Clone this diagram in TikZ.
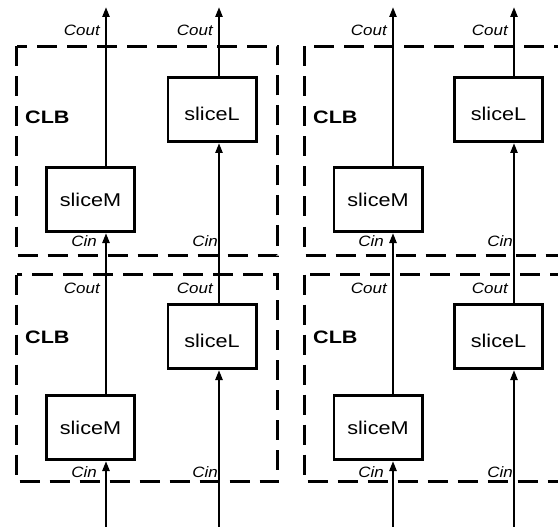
\documentclass[tikz,border=0pt]{standalone}
\usepackage{graphicx}
\usepackage{fontspec}
\setmainfont{Liberation Sans}
\usetikzlibrary{arrows.meta}
\newcommand{\stretchtxt}[2][1.17]{\scalebox{#1}[1]{#2}}
\newcommand{\lowtxt}[1]{\raisebox{-4pt}[\height][\depth]{#1}}
\begin{document}
\begin{tikzpicture}[x=1pt,y=-1pt,
  slice/.style={draw, line width=2.7pt, minimum width=88.3pt, minimum height=64.3pt, inner sep=0pt, font=\fontsize{18.5}{20}\selectfont},
  clb/.style={draw, dash pattern=on 20pt off 10pt, line width=2.8pt},
  wire/.style={line width=2.3pt},
  arr/.style={wire, -{Triangle[width=7pt,length=10pt]}},
  pin/.style={inner sep=0pt, anchor=base east, font=\fontsize{15}{16}\selectfont\itshape},
  clbtext/.style={inner sep=0pt, anchor=base west, font=\fontsize{18}{20}\selectfont\bfseries}]
\useasboundingbox (0,0) rectangle (558,527);
\clip (0,0) rectangle (558,527);

% CLB outlines
\draw[clb] (16.5,46.5) rectangle (277.5,255.5);
\draw[clb] (16.5,274.5) rectangle (277.5,481.5);
\draw[clb] (304.5,46.5) rectangle (590,255.5);
\draw[clb] (304.5,274.5) rectangle (590,481.5);

\node[clbtext] (clbTL) at (25,124) {\stretchtxt[1.2]{CLB}};
\node[clbtext] (clbBL) at (25,343) {\stretchtxt[1.2]{CLB}};
\node[clbtext] (clbTR) at (313,124) {\stretchtxt[1.2]{CLB}};
\node[clbtext] (clbBR) at (313,343) {\stretchtxt[1.2]{CLB}};

% slices
\node[slice] (mTL) at (90.5,199.5) {\stretchtxt{sliceM}};
\node[slice] (mBL) at (90.5,427.5) {\stretchtxt{sliceM}};
\node[slice] (mTR) at (378,199.5) {\stretchtxt{sliceM}};
\node[slice] (mBR) at (378,427.5) {\stretchtxt{sliceM}};
\node[slice] (lTL) at (212,109.5) {\lowtxt{\stretchtxt{sliceL}}};
\node[slice] (lBL) at (212,336.5) {\lowtxt{\stretchtxt{sliceL}}};
\node[slice] (lTR) at (498.5,109.5) {\lowtxt{\stretchtxt{sliceL}}};
\node[slice] (lBR) at (498.5,336.5) {\lowtxt{\stretchtxt{sliceL}}};

% wire end points
\coordinate (b1) at (106,527); \coordinate (t1) at (106,7);
\coordinate (b2) at (219,527); \coordinate (t2) at (219,7);
\coordinate (b3) at (393,527); \coordinate (t3) at (393,7);
\coordinate (b4) at (514,527); \coordinate (t4) at (514,7);

% carry chains
\draw[arr] (b1) -- (b1 |- mBL.south);
\draw[arr] (b1 |- mBL.north) -- (b1 |- mTL.south);
\draw[arr] (b1 |- mTL.north) -- (t1);

\draw[arr] (b2) -- (b2 |- lBL.south);
\draw[arr] (b2 |- lBL.north) -- (b2 |- lTL.south);
\draw[arr] (b2 |- lTL.north) -- (t2);

\draw[arr] (b3) -- (b3 |- mBR.south);
\draw[arr] (b3 |- mBR.north) -- (b3 |- mTR.south);
\draw[arr] (b3 |- mTR.north) -- (t3);

\draw[arr] (b4) -- (b4 |- lBR.south);
\draw[arr] (b4 |- lBR.north) -- (b4 |- lTR.south);
\draw[arr] (b4 |- lTR.north) -- (t4);

% pin labels
\node[pin] (co1t) at (100,36) {\stretchtxt[1.13]{Cout}};
\node[pin] (co2t) at (213,36) {\stretchtxt[1.13]{Cout}};
\node[pin] (co3t) at (387,36) {\stretchtxt[1.13]{Cout}};
\node[pin] (co4t) at (508,36) {\stretchtxt[1.13]{Cout}};
\node[pin] (co1b) at (100,294) {\stretchtxt[1.13]{Cout}};
\node[pin] (co2b) at (213,294) {\stretchtxt[1.13]{Cout}};
\node[pin] (co3b) at (387,294) {\stretchtxt[1.13]{Cout}};
\node[pin] (co4b) at (508,294) {\stretchtxt[1.13]{Cout}};

\node[pin] (ci1t) at (97,247) {\stretchtxt[1.13]{Cin}};
\node[pin] (ci2t) at (218,247) {\stretchtxt[1.13]{Cin}};
\node[pin] (ci3t) at (384,247) {\stretchtxt[1.13]{Cin}};
\node[pin] (ci4t) at (513,247) {\stretchtxt[1.13]{Cin}};
\node[pin] (ci1b) at (97,477) {\stretchtxt[1.13]{Cin}};
\node[pin] (ci2b) at (218,477) {\stretchtxt[1.13]{Cin}};
\node[pin] (ci3b) at (384,477) {\stretchtxt[1.13]{Cin}};
\node[pin] (ci4b) at (513,477) {\stretchtxt[1.13]{Cin}};
\end{tikzpicture}
\end{document}
